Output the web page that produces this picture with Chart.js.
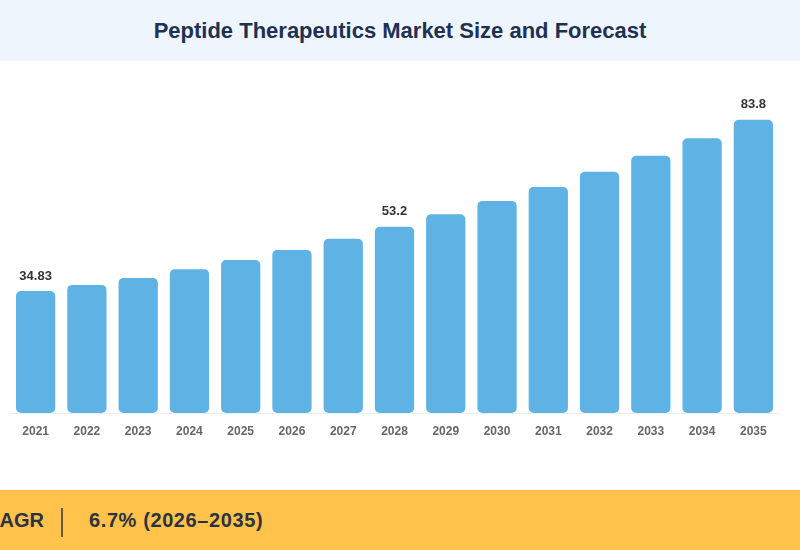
<!DOCTYPE html>
<html>
<head>
<meta charset="utf-8">
<script src="https://cdn.jsdelivr.net/npm/chart.js"></script>
<style>
  body { margin: 0; width: 800px; height: 550px; overflow: hidden; position: relative; background: #fff; font-family: "Liberation Sans", Arial, sans-serif; }
  #head { position: absolute; left: 0; top: 0; width: 800px; height: 61px; background: #EEF5FD; text-align: center; line-height: 61px; font-size: 22px; font-weight: bold; color: #1F3152; }
  #wrap { position: absolute; left: 0; top: 61px; width: 800px; height: 429px; }
  #foot { position: absolute; left: 0; top: 490px; width: 800px; height: 60px; background: #FFC24B; color: #2B3340; font-weight: bold; font-size: 20px; }
  #foot span { position: absolute; top: 0; line-height: 60px; white-space: nowrap; }
  #sep { position: absolute; left: 61px; top: 18px; width: 2px; height: 29px; background: #6E5A35; }
</style>
</head>
<body>
<div id="head">Peptide Therapeutics Market Size and Forecast</div>
<div id="wrap"><canvas id="myChart"></canvas></div>
<div id="foot">
  <span style="left:-15px">CAGR</span>
  <div id="sep"></div>
  <span style="left:89px; letter-spacing:0.6px">6.7% (2026–2035)</span>
</div>
<script>
const years = ['2021', '2022', '2023', '2024', '2025', '2026', '2027', '2028',
               '2029', '2030', '2031', '2032', '2033', '2034', '2035'];
const marketSize = [34.83, 36.6, 38.6, 41.1, 43.7, 46.6, 49.8, 53.2,
                    56.8, 60.6, 64.6, 68.9, 73.5, 78.5, 83.8];
// only these bars get a value label
const labelledYears = ['2021', '2028', '2035'];

const ctx = document.getElementById('myChart');

// Draw the value labels above selected bars
const valueLabels = {
  id: 'valueLabels',
  afterDatasetsDraw(chart) {
    const c = chart.ctx;
    const meta = chart.getDatasetMeta(0);
    c.save();
    c.font = 'bold 13px "Liberation Sans", Arial, sans-serif';
    c.fillStyle = '#333333';
    c.textAlign = 'center';
    c.textBaseline = 'middle';
    meta.data.forEach(function(bar, i) {
      if (labelledYears.includes(years[i])) {
        c.fillText(String(marketSize[i]), bar.x, bar.y - 15);
      }
    });
    c.restore();
  }
};

new Chart(ctx, {
  type: 'bar',
  data: {
    labels: years,
    datasets: [{
      label: 'Market Size',
      data: marketSize,
      backgroundColor: '#5EB3E4',
      borderRadius: 5,
      borderSkipped: false,
      barPercentage: 0.766,
      categoryPercentage: 1
    }]
  },
  options: {
    responsive: true,
    maintainAspectRatio: false,
    animation: false,
    layout: { padding: { top: 37, left: 10, right: 21, bottom: 0 } },
    plugins: {
      legend: { display: false },
      tooltip: { enabled: false }
    },
    scales: {
      x: {
        grid: { display: false, drawTicks: false },
        border: { display: true, color: '#EEEEEE', width: 1 },
        ticks: {
          color: '#666666',
          padding: 11,
          font: { family: '"Liberation Sans", Arial, sans-serif', size: 12, weight: 'bold' }
        },
        afterFit(scale) { scale.height = 77; }
      },
      y: {
        display: false,
        min: 0,
        max: 90
      }
    }
  },
  plugins: [valueLabels]
});
</script>
</body>
</html>
